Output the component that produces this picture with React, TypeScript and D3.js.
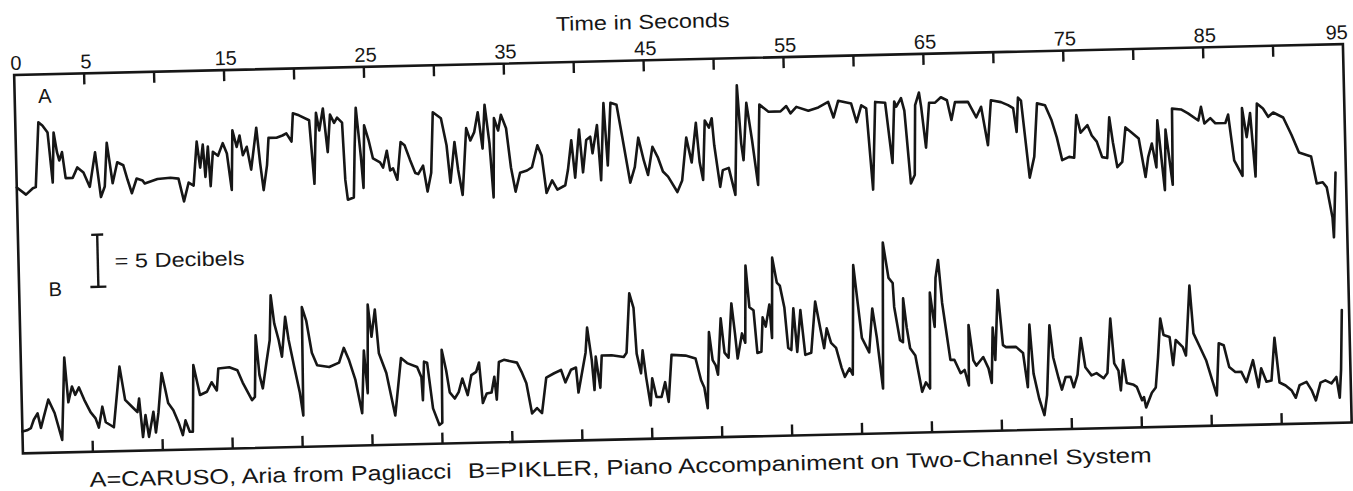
import React from 'react';
import * as d3 from 'd3';

// Time axis (seconds)
const tickSeconds = [5, 10, 15, 20, 25, 30, 35, 40, 45, 50, 55, 60, 65, 70, 75, 80, 85, 90];
const labelSeconds = [0, 5, 15, 25, 35, 45, 55, 65, 75, 85, 95];
const timeDomain = [0, 95];
// level in dB above the bottom of the frame
const levelDomain = [0, 36.3];
const scaleBar = [15.8, 20.8]; // 5 dB

// A = Caruso (time s, level dB)
const seriesA: [number, number][] = [
  [0.0,25.5],[0.65,24.8],[1.15,25.4],[1.36,25.5],[1.65,31.7],[1.93,31.4],[2.29,30.7],[2.58,25.9],[2.72,30.7],[2.93,28.8],[3.08,28.0],[3.29,28.8],[3.51,26.3],[4.01,26.3],[4.36,27.3],[4.79,26.8],[5.22,25.4],[5.65,28.7],[6.0,24.4],[6.29,25.4],[6.5,29.6],[6.86,25.7],[7.22,27.7],[7.65,27.4],[7.93,26.0],[8.22,24.7],[8.58,26.1],[9.0,25.9],[9.15,25.6],[10.07,26.0],[11.0,26.1],[11.57,26.0],[11.93,23.8],[12.29,25.6],[12.64,25.3],[12.93,29.5],[13.14,27.0],[13.36,29.2],[13.5,26.1],[13.72,29.0],[13.86,25.2],[14.07,28.5],[14.43,28.1],[14.79,29.3],[15.07,28.3],[15.36,24.8],[15.5,30.5],[15.78,28.9],[16.0,30.0],[16.21,28.1],[16.5,28.9],[16.78,26.7],[17.21,30.7],[17.43,27.3],[17.64,24.7],[17.92,27.1],[18.07,29.7],[18.64,29.7],[19.07,29.9],[19.35,30.1],[19.71,29.3],[19.85,32.0],[20.28,31.8],[21.0,31.3],[21.28,25.2],[21.5,32.0],[21.71,30.3],[22.0,32.4],[22.28,28.2],[22.5,31.8],[22.78,31.0],[23.0,31.5],[23.35,31.0],[23.49,25.5],[23.64,23.6],[24.07,23.8],[24.21,28.6],[24.35,32.4],[24.64,27.7],[24.78,24.7],[24.92,30.7],[25.21,29.3],[25.5,27.5],[26.0,27.1],[26.21,26.6],[26.5,28.2],[26.71,26.3],[26.92,26.5],[27.21,25.4],[27.5,29.0],[27.78,28.7],[28.14,27.3],[28.5,26.0],[28.71,25.9],[29.07,26.7],[29.35,24.2],[29.64,26.0],[29.85,31.8],[30.42,31.2],[30.78,28.6],[31.0,25.0],[31.35,28.9],[31.57,26.2],[31.85,23.8],[32.0,26.4],[32.21,30.2],[32.49,29.0],[32.78,29.8],[33.06,31.7],[33.35,28.2],[33.56,32.4],[33.85,28.7],[34.06,23.5],[34.21,31.1],[34.49,29.9],[34.71,31.4],[35.06,30.1],[35.35,26.3],[35.64,24.0],[35.99,25.8],[36.49,26.0],[36.85,26.3],[37.27,28.4],[37.56,27.4],[37.85,23.8],[38.27,25.0],[38.63,24.1],[39.2,24.5],[39.42,26.0],[39.7,28.8],[39.92,25.2],[40.27,29.8],[40.49,25.7],[40.77,28.8],[41.06,29.1],[41.2,27.5],[41.56,30.2],[41.77,24.9],[42.06,32.3],[42.27,26.3],[42.56,32.3],[42.99,32.1],[43.35,29.0],[43.85,24.6],[44.2,26.1],[44.49,28.9],[44.85,26.7],[45.13,25.3],[45.49,28.0],[45.85,27.0],[46.2,25.6],[46.56,25.1],[47.2,23.6],[47.56,24.7],[47.92,28.8],[48.27,26.4],[48.63,30.2],[48.84,26.4],[49.06,24.7],[49.27,30.4],[49.56,29.7],[49.77,30.6],[49.91,28.0],[50.27,24.0],[50.48,25.6],[50.91,25.8],[51.34,23.2],[51.62,33.7],[51.84,28.1],[51.98,26.5],[52.27,32.0],[52.62,28.4],[52.98,24.1],[53.2,31.8],[53.84,31.1],[54.7,31.1],[55.12,31.6],[55.41,30.9],[55.84,31.5],[56.69,31.1],[57.41,31.4],[58.12,31.9],[58.48,30.4],[58.84,32.0],[59.76,31.7],[60.12,29.9],[60.48,31.5],[60.83,31.2],[61.19,23.4],[61.48,31.8],[62.19,31.7],[62.62,25.9],[62.84,31.8],[62.98,31.3],[63.33,32.1],[63.55,30.9],[63.9,23.9],[64.19,24.7],[64.33,31.4],[64.62,32.6],[64.76,31.2],[65.04,27.3],[65.33,31.6],[65.76,31.6],[66.18,32.1],[66.61,31.8],[66.9,29.9],[67.18,31.6],[68.11,31.6],[68.68,30.1],[69.04,31.1],[69.47,27.4],[69.75,31.7],[70.47,31.5],[70.97,31.2],[71.33,30.9],[71.54,28.6],[71.69,31.9],[71.9,31.6],[72.4,24.2],[72.76,26.2],[73.04,31.3],[73.61,31.1],[74.04,29.7],[74.4,28.0],[74.75,25.8],[75.25,26.1],[75.61,26.0],[75.83,30.1],[76.11,28.4],[76.61,29.1],[76.9,28.1],[77.25,27.5],[77.61,26.0],[77.97,25.9],[78.18,29.8],[78.4,27.4],[78.68,25.0],[79.04,25.5],[79.32,28.8],[79.75,28.3],[80.25,27.7],[80.68,24.0],[80.9,25.9],[81.18,27.2],[81.47,24.9],[81.61,29.4],[82.04,22.7],[82.18,28.5],[82.61,23.2],[82.68,30.5],[83.32,30.4],[83.82,30.0],[84.54,29.3],[84.75,30.6],[84.97,29.0],[85.4,29.5],[85.75,29.0],[86.47,29.0],[86.68,29.8],[87.04,25.4],[87.61,23.9],[87.68,30.4],[87.97,27.6],[88.25,29.9],[88.54,23.8],[88.75,30.8],[89.18,30.3],[89.54,29.5],[89.9,29.9],[90.61,29.4],[91.18,27.7],[91.68,26.0],[92.54,25.6],[92.9,23.0],[93.33,23.1],[93.61,22.6],[93.97,19.7],[94.04,17.8],[94.26,24.0]
];

// B = Pikler (time s, level dB)
const seriesB: [number, number][] = [
  [0.0,2.1],[0.33,2.2],[0.61,2.4],[0.83,3.2],[1.11,3.8],[1.33,2.4],[1.54,3.4],[1.9,5.1],[2.33,3.8],[2.83,1.2],[3.11,9.1],[3.33,4.8],[3.61,6.3],[3.83,5.5],[4.11,6.2],[4.47,5.0],[4.9,3.8],[5.25,3.2],[5.47,2.3],[5.75,4.3],[5.97,2.8],[6.32,2.5],[6.54,2.3],[7.04,8.1],[7.39,4.9],[7.89,4.2],[8.25,3.7],[8.39,5.0],[8.61,1.3],[8.82,3.4],[9.04,1.3],[9.39,3.7],[9.54,1.7],[9.75,3.6],[10.04,7.4],[10.25,6.0],[10.46,4.5],[10.82,3.8],[11.18,2.6],[11.46,1.4],[11.67,2.8],[11.96,1.7],[12.18,1.7],[12.32,8.1],[12.75,5.2],[13.25,5.5],[13.6,6.4],[13.96,5.6],[14.1,7.7],[14.89,7.8],[15.46,7.5],[15.82,6.3],[16.46,4.6],[16.67,4.9],[16.82,10.8],[17.03,7.0],[17.25,5.7],[17.54,8.1],[17.82,10.3],[17.96,14.6],[18.17,11.9],[18.46,10.3],[18.67,8.7],[18.96,12.5],[19.17,10.3],[19.53,7.7],[19.89,5.2],[20.1,3.0],[20.17,13.4],[20.46,12.1],[20.81,9.0],[21.17,7.8],[22.03,7.6],[22.74,8.0],[23.1,9.4],[23.46,8.2],[23.88,6.3],[24.31,3.1],[24.53,9.1],[24.74,5.0],[24.88,13.5],[25.1,10.4],[25.38,13.0],[25.6,8.8],[26.1,6.9],[26.67,2.8],[27.17,8.3],[27.6,7.8],[28.31,7.4],[28.6,6.4],[28.67,4.2],[28.81,7.9],[29.03,7.8],[29.38,3.4],[29.81,1.8],[30.02,2.0],[30.09,9.0],[30.38,7.0],[30.6,4.9],[30.95,4.3],[31.24,4.9],[31.52,6.2],[31.88,4.6],[32.17,6.5],[32.52,6.8],[32.74,7.7],[32.95,3.8],[33.24,4.7],[33.59,4.8],[33.81,6.3],[33.95,4.1],[34.16,7.7],[34.52,7.9],[35.45,7.6],[35.8,6.6],[36.09,5.6],[36.45,2.7],[36.81,3.2],[37.16,2.7],[37.52,6.1],[38.09,6.5],[38.59,6.8],[38.88,5.6],[39.3,6.8],[39.66,7.0],[39.8,4.6],[40.37,8.4],[40.52,10.8],[40.8,7.7],[40.95,4.8],[41.09,8.0],[41.37,5.0],[41.52,8.1],[42.23,8.1],[43.09,7.9],[43.3,8.3],[43.59,14.0],[43.87,12.6],[44.02,8.2],[44.3,6.3],[44.45,8.5],[44.66,5.9],[44.94,3.2],[45.09,5.8],[45.37,4.0],[45.73,4.0],[46.01,5.4],[46.23,3.5],[46.51,8.0],[47.51,7.9],[48.22,7.6],[48.58,5.5],[48.8,4.8],[49.01,2.8],[49.22,10.1],[49.44,7.4],[49.65,6.9],[49.8,6.0],[50.08,11.4],[50.3,8.1],[50.58,7.6],[50.87,12.8],[51.08,9.9],[51.23,7.5],[51.58,9.9],[51.8,9.0],[51.94,16.4],[52.15,12.4],[52.44,12.1],[52.65,8.0],[52.94,8.1],[53.08,11.4],[53.29,10.5],[53.58,12.6],[53.72,9.4],[53.86,17.1],[54.15,14.7],[54.36,14.4],[54.65,12.3],[54.86,8.4],[55.08,8.2],[55.29,12.2],[55.5,8.0],[55.79,12.0],[56.07,7.7],[56.5,7.9],[56.86,12.8],[57.21,10.0],[57.43,8.3],[57.64,10.2],[57.93,8.8],[58.28,8.3],[58.64,6.4],[58.86,5.5],[59.21,6.3],[59.43,5.7],[59.64,16.2],[59.86,13.1],[60.14,9.2],[60.64,7.8],[60.93,12.0],[61.21,9.2],[61.57,4.3],[61.79,18.3],[62.14,14.9],[62.43,14.4],[62.5,12.1],[62.86,8.9],[63.07,8.7],[63.15,12.9],[63.36,10.1],[63.57,8.1],[63.93,7.4],[64.36,3.9],[64.64,4.8],[64.93,4.2],[65.07,13.4],[65.36,10.1],[65.5,14.8],[65.71,16.5],[65.93,12.4],[66.43,6.9],[66.71,6.9],[67.14,5.6],[67.43,5.9],[67.71,4.4],[67.78,10.2],[68.07,6.8],[68.28,6.3],[68.78,7.1],[69.14,6.0],[69.35,4.6],[69.5,9.9],[69.64,6.8],[69.92,13.5],[70.21,8.2],[70.42,8.0],[71.14,8.0],[71.63,7.4],[71.92,4.1],[72.13,10.1],[72.35,5.4],[72.71,3.0],[73.06,1.4],[73.28,3.3],[73.56,10.0],[73.78,6.9],[74.13,4.9],[74.35,3.8],[74.63,5.0],[74.99,5.0],[75.2,4.0],[75.49,5.2],[75.78,8.7],[76.06,5.9],[76.49,5.1],[76.85,5.3],[77.35,4.8],[77.63,5.3],[77.92,10.5],[78.13,6.2],[78.42,5.5],[78.56,3.6],[78.77,6.5],[78.99,4.3],[79.49,4.1],[79.7,3.9],[80.06,2.6],[80.2,2.9],[80.34,1.9],[80.77,3.3],[81.06,3.8],[81.27,6.7],[81.49,10.4],[81.7,8.8],[82.13,8.6],[82.34,5.9],[82.56,8.3],[83.06,7.6],[83.27,6.8],[83.63,13.5],[83.84,8.9],[84.27,7.6],[84.7,6.3],[85.41,2.9],[85.63,7.9],[85.98,7.7],[86.34,5.6],[86.77,5.1],[87.2,5.1],[87.55,4.1],[88.05,6.2],[88.41,3.6],[88.62,5.4],[88.98,4.1],[89.34,4.2],[89.62,8.3],[89.91,4.0],[90.34,3.7],[90.77,3.2],[91.05,2.5],[91.34,3.7],[91.84,4.0],[92.19,3.2],[92.48,2.2],[92.84,3.9],[93.19,4.1],[93.62,3.8],[93.98,4.4],[94.19,2.4],[94.33,5.1],[94.48,10.8]
];

const axisTitle = 'Time in Seconds';
const scaleLabel = '= 5 Decibels';
const captionA = 'A=CARUSO,  Aria from Pagliacci';
const captionB = 'B=PIKLER,  Piano Accompaniment on Two-Channel System';

const INK = '#161616';
const FONT = '"Liberation Sans", Arial, sans-serif';

export default function App() {
  const W = 1353;
  const H = 491;
  const x = d3.scaleLinear().domain(timeDomain).range([18.4, 1347.5]);
  const y = d3.scaleLinear().domain(levelDomain).range([438, 59.5]);
  const line = d3
    .line<[number, number]>()
    .x((d) => x(d[0]))
    .y((d) => y(d[1]));

  const top = y(levelDomain[1]);
  const bottom = y(levelDomain[0]);
  const left = x(timeDomain[0]);
  const right = x(timeDomain[1]);
  const barX = 97.7;

  return (
    <svg
      width={W}
      height={H}
      style={{ position: 'absolute', left: 0, top: 0, background: '#fff' }}
      fontFamily={FONT}
    >
      <rect x={0} y={0} width={W} height={H} fill="#fff" />
      <g transform="rotate(-1.33 683 250)">
        {/* frame */}
        <rect
          x={left}
          y={top}
          width={right - left}
          height={bottom - top}
          fill="none"
          stroke={INK}
          strokeWidth={2.6}
        />
        {/* top ticks */}
        {tickSeconds.map((t) => (
          <line key={'tt' + t} x1={x(t)} x2={x(t)} y1={top} y2={top + 11} stroke={INK} strokeWidth={2.4} />
        ))}
        {/* bottom ticks */}
        {tickSeconds.map((t) => (
          <line key={'bt' + t} x1={x(t)} x2={x(t)} y1={bottom} y2={bottom - 11} stroke={INK} strokeWidth={2.4} />
        ))}
        {/* tick labels */}
        {labelSeconds.map((t) => (
          <text
            key={'lab' + t}
            x={t === 95 ? x(t) - 6 : x(t) + 2}
            y={top - 5}
            fontSize={20}
            textAnchor="middle"
            fill={INK}
          >
            {t}
          </text>
        ))}
        <text x={648} y={28} fontSize={20} textAnchor="middle" fill={INK} textLength={174} lengthAdjust="spacingAndGlyphs">
          {axisTitle}
        </text>

        {/* series labels */}
        <text x={48.5} y={88} fontSize={20} textAnchor="middle" fill={INK}>A</text>
        <text x={54.6} y={281.5} fontSize={20} textAnchor="middle" fill={INK}>B</text>

        {/* 5 dB scale bar */}
        <line x1={barX} x2={barX} y1={y(scaleBar[0])} y2={y(scaleBar[1])} stroke={INK} strokeWidth={2.4} />
        <line x1={barX - 8} x2={barX + 8} y1={y(scaleBar[0])} y2={y(scaleBar[0])} stroke={INK} strokeWidth={2.4} />
        <line x1={barX - 6} x2={barX + 6} y1={y(scaleBar[1])} y2={y(scaleBar[1])} stroke={INK} strokeWidth={2.4} />
        <text x={114.6} y={254.8} fontSize={20} fill={INK} textLength={130} lengthAdjust="spacingAndGlyphs">
          {scaleLabel}
        </text>

        {/* traces */}
        <path d={line(seriesA) || ''} fill="none" stroke={INK} strokeWidth={2.6} strokeLinejoin="round" strokeLinecap="round" />
        <path d={line(seriesB) || ''} fill="none" stroke={INK} strokeWidth={2.6} strokeLinejoin="round" strokeLinecap="round" />

        {/* caption */}
        <text x={84.5} y={473} fontSize={21} fill={INK} textLength={362} lengthAdjust="spacingAndGlyphs">
          {captionA}
        </text>
        <text x={462.7} y={473} fontSize={21} fill={INK} textLength={684} lengthAdjust="spacingAndGlyphs">
          {captionB}
        </text>
      </g>
    </svg>
  );
}
